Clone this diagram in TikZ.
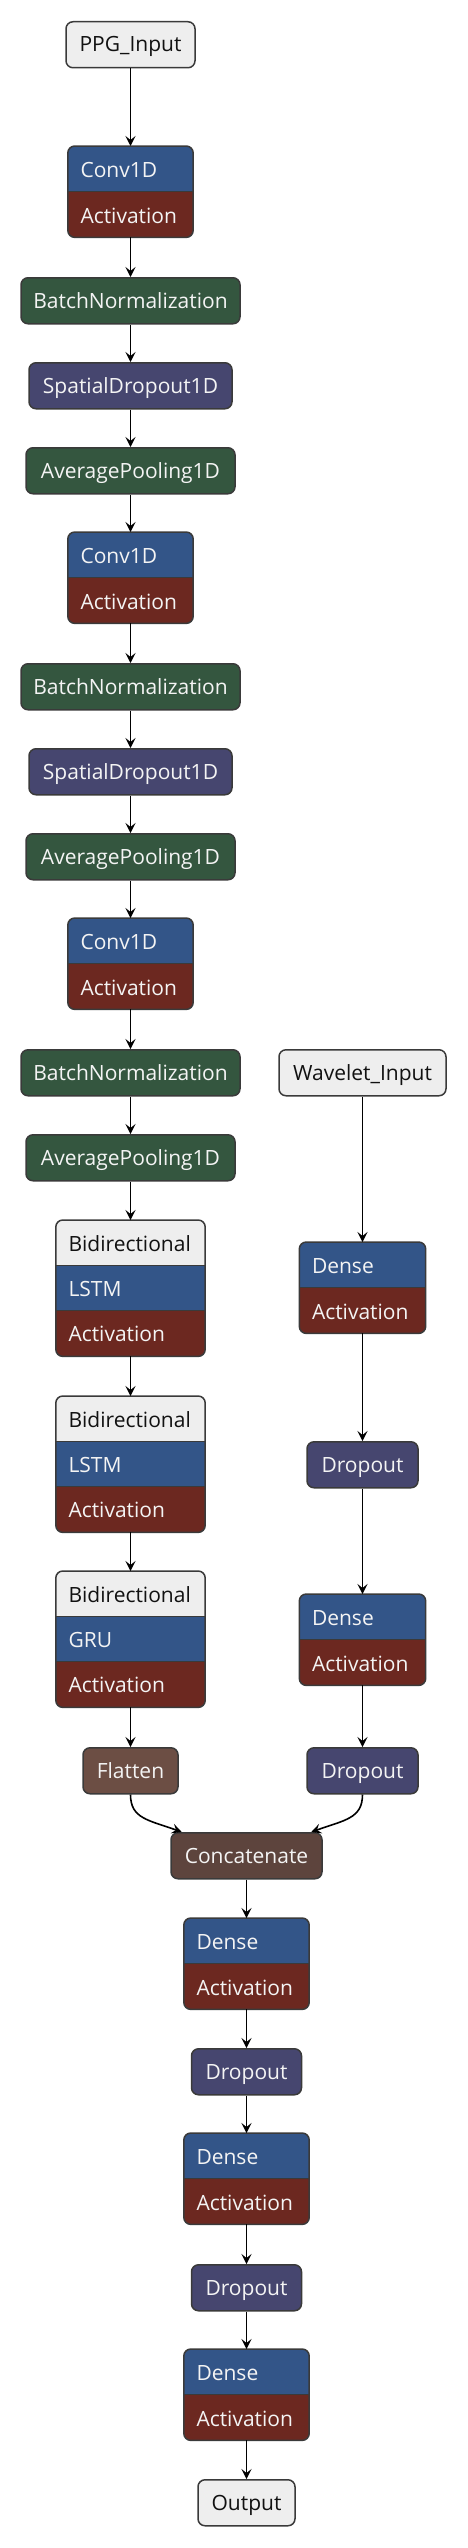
\documentclass[tikz,border=0pt]{standalone}
\usepackage{fontspec}
\setmainfont{Open Sans}
\usetikzlibrary{arrows.meta,calc}
\definecolor{boxgray}{HTML}{EEEEEE}
\definecolor{boxblue}{HTML}{335588}
\definecolor{boxred}{HTML}{6C2820}
\definecolor{boxgreen}{HTML}{34563F}
\definecolor{boxpurple}{HTML}{46466F}
\definecolor{flatbrown}{HTML}{6C4E44}
\definecolor{catbrown}{HTML}{5D443D}
\definecolor{bordercol}{HTML}{3A3A3A}
\definecolor{lighttext}{HTML}{F4F4F4}
\definecolor{darktext}{HTML}{111111}
\newcommand{\lbfont}{\fontsize{21}{24}\selectfont}
\tikzset{
  boxline/.style={draw=bordercol, line width=1.5pt, rounded corners=7pt},
  lbl/.style={inner sep=0pt, font=\lbfont},
  conn/.style={-{Stealth[length=10pt,width=10pt,inset=4pt]}, line width=1.6pt, black},
}
% single-row layer: name, cx, top, width, fill, text colour, text
\newcommand{\lyrSingle}[7]{%
  \node[boxline, fill=#5, minimum width=#4pt, minimum height=46pt, inner sep=0pt, anchor=north] (#1) at (#2,#3) {};
  \node[lbl, anchor=base, text=#6] (#1-t) at (#2,#3+31) {#7};
}
% two-row layer (blue + red Activation): name, cx, top, width, top text
\newcommand{\lyrDouble}[5]{%
  \node[minimum width=#4pt, minimum height=91pt, inner sep=0pt, anchor=north] (#1) at (#2,#3) {};
  \begin{scope}
    \clip[rounded corners=7pt] (#1.north west) rectangle (#1.south east);
    \fill[boxblue] (#1.north west) rectangle ($(#1.north east)+(0,45.5)$);
    \fill[boxred] ($(#1.north west)+(0,45.5)$) rectangle (#1.south east);
  \end{scope}
  \draw[bordercol, line width=1.5pt] ($(#1.north west)+(0,45.5)$) -- ($(#1.north east)+(0,45.5)$);
  \draw[boxline] (#1.north west) rectangle (#1.south east);
  \node[lbl, anchor=base west, text=lighttext] (#1-a) at ($(#1.north west)+(12.5,31.5)$) {#5};
  \node[lbl, anchor=base west, text=lighttext] (#1-b) at ($(#1.north west)+(12.5,77)$) {Activation};
}
% three-row layer (gray Bidirectional + blue + red Activation): name, cx, top, width, middle text
\newcommand{\lyrTriple}[5]{%
  \node[minimum width=#4pt, minimum height=136pt, inner sep=0pt, anchor=north] (#1) at (#2,#3) {};
  \begin{scope}
    \clip[rounded corners=7pt] (#1.north west) rectangle (#1.south east);
    \fill[boxgray] (#1.north west) rectangle ($(#1.north east)+(0,45.33)$);
    \fill[boxblue] ($(#1.north west)+(0,45.33)$) rectangle ($(#1.north east)+(0,90.67)$);
    \fill[boxred] ($(#1.north west)+(0,90.67)$) rectangle (#1.south east);
  \end{scope}
  \draw[bordercol, line width=1.5pt] ($(#1.north west)+(0,45.33)$) -- ($(#1.north east)+(0,45.33)$);
  \draw[bordercol, line width=1.5pt] ($(#1.north west)+(0,90.67)$) -- ($(#1.north east)+(0,90.67)$);
  \draw[boxline] (#1.north west) rectangle (#1.south east);
  \node[lbl, anchor=base west, text=darktext] (#1-a) at ($(#1.north west)+(12.5,31.2)$) {Bidirectional};
  \node[lbl, anchor=base west, text=lighttext] (#1-b) at ($(#1.north west)+(12.5,76.5)$) {#5};
  \node[lbl, anchor=base west, text=lighttext] (#1-c) at ($(#1.north west)+(12.5,121.8)$) {Activation};
}
\begin{document}
\begin{tikzpicture}[x=1pt, y=-1pt]
\useasboundingbox (0,0) rectangle (468,2548);
% left branch
\lyrSingle{in1}{130.5}{21}{129}{boxgray}{darktext}{PPG\_Input}
\lyrDouble{c1}{130.5}{146}{125}{Conv1D}
\lyrSingle{bn1}{130.5}{277}{219}{boxgreen}{lighttext}{BatchNormalization}
\lyrSingle{sd1}{130.5}{362}{203}{boxpurple}{lighttext}{SpatialDropout1D}
\lyrSingle{ap1}{130.5}{447}{209}{boxgreen}{lighttext}{AveragePooling1D}
\lyrDouble{c2}{130.5}{532}{125}{Conv1D}
\lyrSingle{bn2}{130.5}{663}{219}{boxgreen}{lighttext}{BatchNormalization}
\lyrSingle{sd2}{130.5}{748}{203}{boxpurple}{lighttext}{SpatialDropout1D}
\lyrSingle{ap2}{130.5}{833}{209}{boxgreen}{lighttext}{AveragePooling1D}
\lyrDouble{c3}{130.5}{918}{125}{Conv1D}
\lyrSingle{bn3}{130.5}{1049}{219}{boxgreen}{lighttext}{BatchNormalization}
\lyrSingle{ap3}{130.5}{1134}{209}{boxgreen}{lighttext}{AveragePooling1D}
\lyrTriple{b1}{130.5}{1220}{149}{LSTM}
\lyrTriple{b2}{130.5}{1396}{149}{LSTM}
\lyrTriple{b3}{130.5}{1571}{149}{GRU}
\lyrSingle{fl}{130.5}{1747}{95}{flatbrown}{lighttext}{Flatten}
% right branch
\lyrSingle{in2}{362.5}{1049}{167}{boxgray}{darktext}{Wavelet\_Input}
\lyrDouble{d1}{362.5}{1242}{126}{Dense}
\lyrSingle{dr1}{362.5}{1441}{111}{boxpurple}{lighttext}{Dropout}
\lyrDouble{d2}{362.5}{1594}{126}{Dense}
\lyrSingle{dr2}{362.5}{1747}{111}{boxpurple}{lighttext}{Dropout}
% merged trunk
\lyrSingle{cc}{246.5}{1832}{151}{catbrown}{lighttext}{Concatenate}
\lyrDouble{d3}{246.5}{1918}{125}{Dense}
\lyrSingle{dr3}{246.5}{2048}{110}{boxpurple}{lighttext}{Dropout}
\lyrDouble{d4}{246.5}{2133}{125}{Dense}
\lyrSingle{dr4}{246.5}{2264}{110}{boxpurple}{lighttext}{Dropout}
\lyrDouble{d5}{246.5}{2349}{125}{Dense}
\lyrSingle{out}{246.5}{2479}{97}{boxgray}{darktext}{Output}
% connectors
\foreach \a/\b in {in1/c1,c1/bn1,bn1/sd1,sd1/ap1,ap1/c2,c2/bn2,bn2/sd2,sd2/ap2,ap2/c3,c3/bn3,bn3/ap3,ap3/b1,b1/b2,b2/b3,b3/fl,
  in2/d1,d1/dr1,dr1/d2,d2/dr2,cc/d3,d3/dr3,dr3/d4,d4/dr4,dr4/d5,d5/out}
  \draw[conn] (\a.south) -- (\b.north);
\draw[conn] (fl.south) .. controls ($(fl.south)+(0,24)$) and ($(cc.north west)+(-22,-12)$) .. ($(cc.north west)+(11.5,0)$);
\draw[conn] (dr2.south) .. controls ($(dr2.south)+(0,24)$) and ($(cc.north east)+(22,-12)$) .. ($(cc.north east)+(-11.5,0)$);
\end{tikzpicture}
\end{document}
